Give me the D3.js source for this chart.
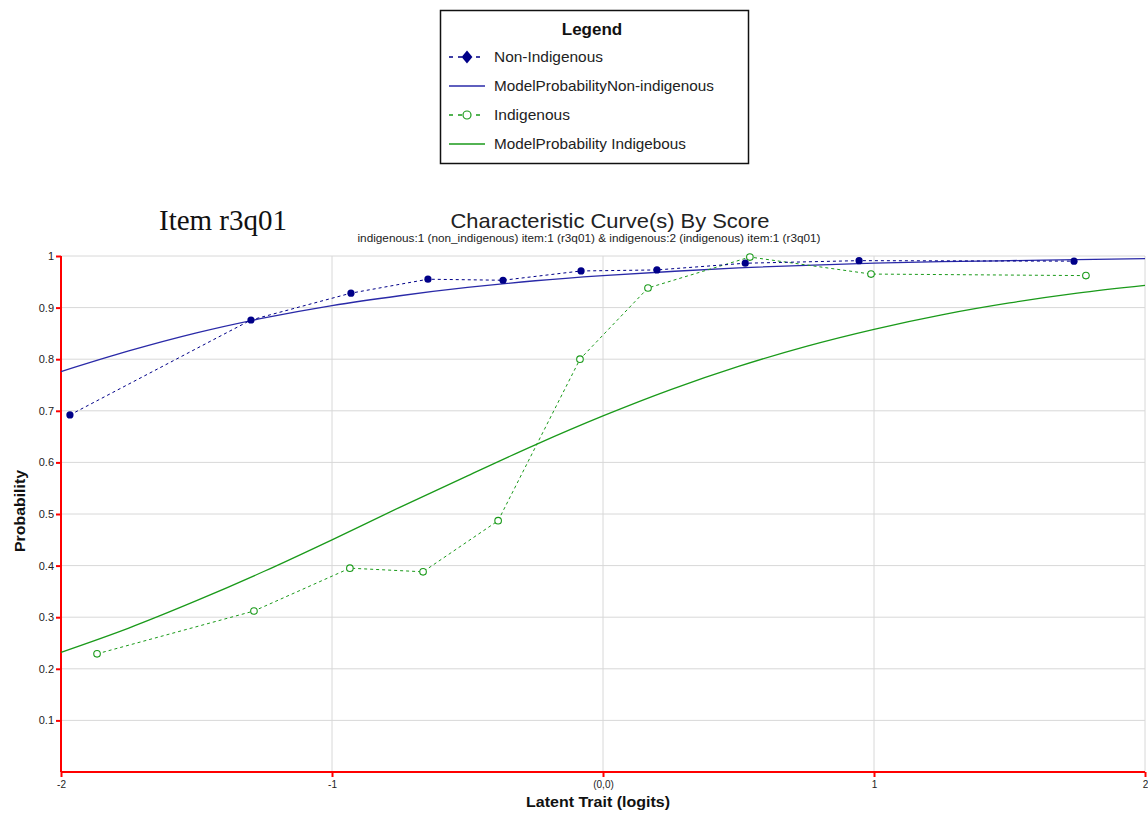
<!DOCTYPE html>
<html><head><meta charset="utf-8">
<script src="https://cdn.jsdelivr.net/npm/d3@7"></script>
<style>body{margin:0;background:#fff}svg{display:block}</style>
</head><body>
<script>
// Data
const nonIndigenousX = [-1.967, -1.299, -0.930, -0.646, -0.369, -0.081, 0.199, 0.525, 0.945, 1.738];
const nonIndigenousY = [0.692, 0.876, 0.928, 0.955, 0.953, 0.971, 0.973, 0.986, 0.991, 0.990];
const indigenousX = [-1.867, -1.288, -0.934, -0.664, -0.387, -0.085, 0.166, 0.542, 0.989, 1.782];
const indigenousY = [0.229, 0.312, 0.395, 0.388, 0.487, 0.800, 0.938, 0.998, 0.965, 0.962];
const modelX = [-2, -1.75, -1.5, -1.25, -1, -0.75, -0.5, -0.25, 0, 0.25, 0.5, 0.75, 1, 1.25, 1.5, 1.75, 2];
const modelNonIndigenous = [0.776, 0.816, 0.851, 0.880, 0.904, 0.923, 0.939, 0.952, 0.962, 0.970, 0.977, 0.982, 0.986, 0.989, 0.991, 0.993, 0.995];
const modelIndigenous = [0.232, 0.279, 0.332, 0.389, 0.450, 0.513, 0.574, 0.634, 0.690, 0.741, 0.786, 0.825, 0.858, 0.886, 0.909, 0.928, 0.943];
const xTicks = [-2, -1, 0, 1, 2];
const xTickLabels = ["-2", "-1", "(0,0)", "1", "2"];
const yTicks = [0.1, 0.2, 0.3, 0.4, 0.5, 0.6, 0.7, 0.8, 0.9, 1];
const legendLabels = ["Non-Indigenous", "ModelProbabilityNon-indigenous", "Indigenous", "ModelProbability Indigebous"];

const W = 1148, H = 814;
const blue = "#000088", blueModel = "#2a2aa8", green = "#1a9a1a";
const svg = d3.select("body").append("svg").attr("width", W).attr("height", H)
  .style("font-family", "'Liberation Sans', Arial, sans-serif");

const x = d3.scaleLinear().domain([-2, 2]).range([61, 1145]);
const y = d3.scaleLinear().domain([0, 1]).range([772, 256]);

// grid
svg.append("g").selectAll("line").data(yTicks).join("line")
  .attr("x1", 61).attr("x2", 1145).attr("y1", d => y(d)).attr("y2", d => y(d))
  .attr("stroke", "#d8d8d8").attr("stroke-width", 1);
svg.append("g").selectAll("line").data([-1, 0, 1, 2]).join("line")
  .attr("x1", d => x(d)).attr("x2", d => x(d)).attr("y1", 256).attr("y2", 772)
  .attr("stroke", "#d8d8d8").attr("stroke-width", 1);

// axes
const yAxis = d3.axisLeft(y).tickValues(yTicks).tickSize(5).tickFormat(d3.format("~g"));
const gy = svg.append("g").attr("transform", "translate(61,0)").call(yAxis);
gy.select(".domain").attr("stroke", "#ff0000").attr("stroke-width", 2).attr("d", "M0,256V772");
gy.selectAll(".tick line").attr("stroke", "#ff0000").attr("stroke-width", 2);
gy.selectAll(".tick text").attr("font-size", 11).attr("fill", "#222").attr("x", -7)
  .style("font-family", "'Liberation Sans', Arial, sans-serif");

const xAxis = d3.axisBottom(x).tickValues(xTicks).tickSize(5).tickFormat((d, i) => xTickLabels[i]);
const gx = svg.append("g").attr("transform", "translate(0,772)").call(xAxis);
gx.select(".domain").attr("stroke", "#ff0000").attr("stroke-width", 2).attr("d", "M61,0H1145");
gx.selectAll(".tick line").attr("stroke", "#ff0000").attr("stroke-width", 2);
gx.selectAll(".tick text").attr("font-size", 10).attr("fill", "#222").attr("y", 9)
  .style("font-family", "'Liberation Sans', Arial, sans-serif");

// lines
const line = d3.line().x(d => x(d[0])).y(d => y(d[1]));
const curve = d3.line().x(d => x(d[0])).y(d => y(d[1])).curve(d3.curveMonotoneX);
const nonPts = nonIndigenousX.map((v, i) => [v, nonIndigenousY[i]]);
const indPts = indigenousX.map((v, i) => [v, indigenousY[i]]);

svg.append("path").attr("d", curve(modelX.map((v, i) => [v, modelIndigenous[i]])))
  .attr("fill", "none").attr("stroke", green).attr("stroke-width", 1.3);
svg.append("path").attr("d", curve(modelX.map((v, i) => [v, modelNonIndigenous[i]])))
  .attr("fill", "none").attr("stroke", blueModel).attr("stroke-width", 1.3);
svg.append("path").attr("d", line(indPts)).attr("fill", "none").attr("stroke", green)
  .attr("stroke-width", 1).attr("stroke-dasharray", "3,3");
svg.append("path").attr("d", line(nonPts)).attr("fill", "none").attr("stroke", blue)
  .attr("stroke-width", 1).attr("stroke-dasharray", "3,3");
svg.append("g").selectAll("circle").data(indPts).join("circle")
  .attr("cx", d => x(d[0])).attr("cy", d => y(d[1])).attr("r", 3.3)
  .attr("fill", "#fff").attr("stroke", green).attr("stroke-width", 1.1);
svg.append("g").selectAll("circle").data(nonPts).join("circle")
  .attr("cx", d => x(d[0])).attr("cy", d => y(d[1])).attr("r", 3.6).attr("fill", blue);

// titles
svg.append("text").attr("x", 159).attr("y", 230).text("Item r3q01")
  .attr("font-family", "'Liberation Serif', 'Times New Roman', serif").attr("font-size", 29).attr("fill", "#111")
  .attr("textLength", 128).attr("lengthAdjust", "spacingAndGlyphs");
svg.append("text").attr("x", 610).attr("y", 228).attr("text-anchor", "middle")
  .text("Characteristic Curve(s) By Score").attr("font-size", 21).attr("fill", "#222")
  .attr("textLength", 319).attr("lengthAdjust", "spacingAndGlyphs");
svg.append("text").attr("x", 589).attr("y", 242).attr("text-anchor", "middle")
  .text("indigenous:1 (non_indigenous) item:1 (r3q01) & indigenous:2 (indigenous) item:1 (r3q01)")
  .attr("font-size", 11).attr("fill", "#222")
  .attr("textLength", 463).attr("lengthAdjust", "spacingAndGlyphs");
svg.append("text").attr("transform", "translate(25,511) rotate(-90)").attr("text-anchor", "middle")
  .text("Probability").attr("font-size", 15.5).attr("font-weight", "bold").attr("fill", "#111")
  .attr("textLength", 82).attr("lengthAdjust", "spacingAndGlyphs");
svg.append("text").attr("x", 598).attr("y", 807).attr("text-anchor", "middle")
  .text("Latent Trait (logits)").attr("font-size", 15.5).attr("font-weight", "bold").attr("fill", "#111")
  .attr("textLength", 144).attr("lengthAdjust", "spacingAndGlyphs");

// legend
const lg = svg.append("g");
lg.append("rect").attr("x", 440.5).attr("y", 10.5).attr("width", 308).attr("height", 153)
  .attr("fill", "#fff").attr("stroke", "#111").attr("stroke-width", 1.5);
lg.append("text").attr("x", 592).attr("y", 35).attr("text-anchor", "middle").text("Legend")
  .attr("font-size", 17).attr("font-weight", "bold").attr("fill", "#111");
const rows = [57, 86, 115, 144];
const legendWidths = [109, 220, 76, 192];
legendLabels.forEach((t, i) => {
  const yy = rows[i];
  const col = i < 2 ? blue : green;
  const dashed = i % 2 === 0;
  lg.append("line").attr("x1", 449).attr("x2", 485).attr("y1", yy).attr("y2", yy)
    .attr("stroke", i === 1 ? blueModel : col).attr("stroke-width", 1.3)
    .attr("stroke-dasharray", dashed ? "4,5" : null);
  if (i === 0) lg.append("path").attr("d", d3.symbol(d3.symbolDiamond, 60)())
    .attr("transform", `translate(467,${yy}) scale(1.3,0.9)`).attr("fill", blue);
  if (i === 2) lg.append("circle").attr("cx", 467).attr("cy", yy).attr("r", 4)
    .attr("fill", "#fff").attr("stroke", green).attr("stroke-width", 1.2);
  lg.append("text").attr("x", 494).attr("y", yy + 5).text(t).attr("font-size", 15).attr("fill", "#222")
    .attr("textLength", legendWidths[i]).attr("lengthAdjust", "spacingAndGlyphs");
});
</script>
</body></html>
